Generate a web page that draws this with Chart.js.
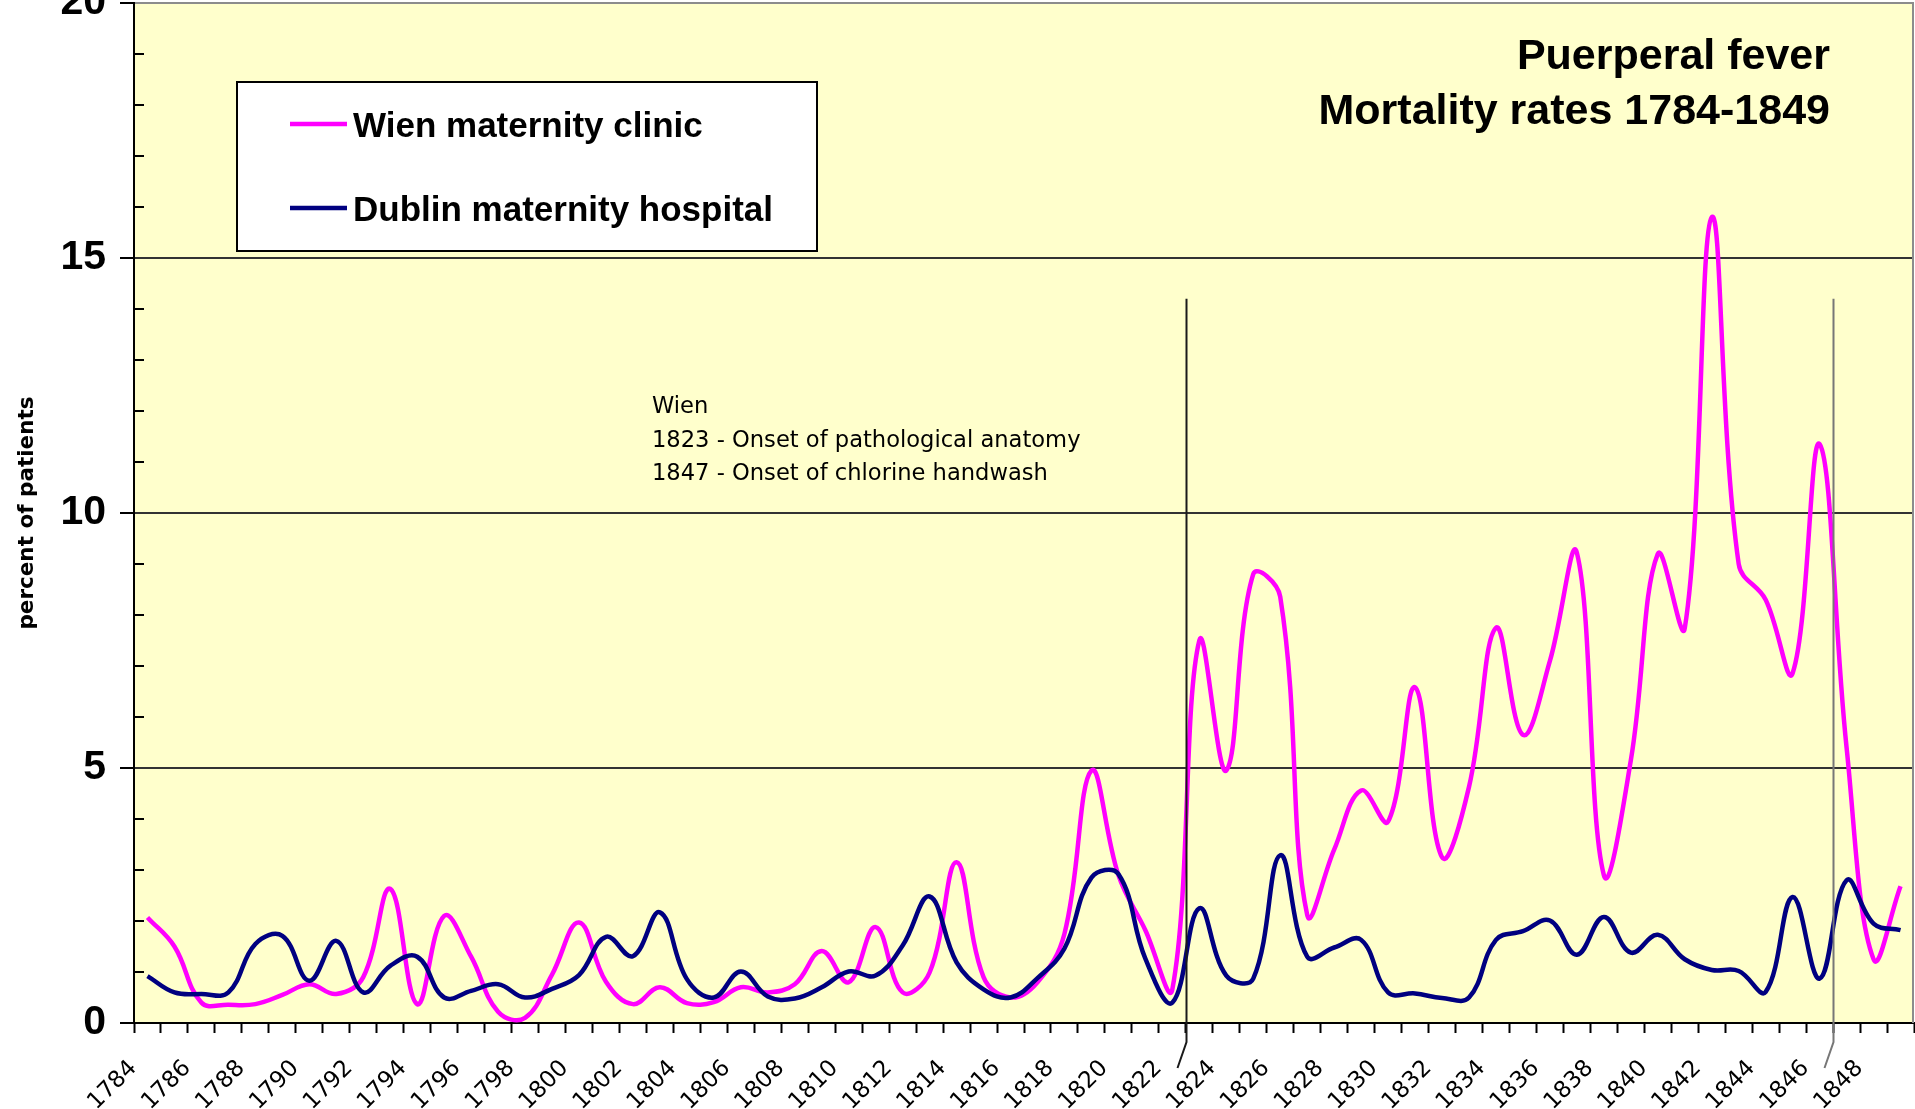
<!DOCTYPE html>
<html>
<head>
<meta charset="utf-8">
<title>Puerperal fever - mortality rates 1784-1849</title>
<script src="https://cdn.jsdelivr.net/npm/chart.js@4.4.1/dist/chart.umd.min.js"></script>
<style>
  html, body { margin: 0; padding: 0; background: #ffffff; }
  #wrap { width: 1915px; height: 1109px; }
</style>
</head>
<body>
<div id="wrap"><canvas id="fever-canvas" width="1915" height="1109"></canvas></div>
<script>
// --- DATA ---
const years = [
    '1784', '1785', '1786', '1787', '1788', '1789', '1790', '1791', '1792', '1793',
    '1794', '1795', '1796', '1797', '1798', '1799', '1800', '1801', '1802', '1803',
    '1804', '1805', '1806', '1807', '1808', '1809', '1810', '1811', '1812', '1813',
    '1814', '1815', '1816', '1817', '1818', '1819', '1820', '1821', '1822', '1823',
    '1824', '1825', '1826', '1827', '1828', '1829', '1830', '1831', '1832', '1833',
    '1834', '1835', '1836', '1837', '1838', '1839', '1840', '1841', '1842', '1843',
    '1844', '1845', '1846', '1847', '1848', '1849'
];

const wienRates = [
    2.07, 1.50, 0.40, 0.36, 0.37, 0.55, 0.76, 0.57, 0.90, 2.63,
    0.37, 2.10, 1.30, 0.22, 0.10, 0.95, 1.97, 0.81, 0.37, 0.70,
    0.39, 0.41, 0.70, 0.60, 0.76, 1.41, 0.80, 1.88, 0.60, 0.99,
    3.15, 0.90, 0.50, 0.80, 1.75, 4.95, 2.90, 1.82, 0.66, 7.50,
    4.95, 8.80, 8.36, 2.12, 3.40, 4.56, 3.95, 6.58, 3.25, 4.63,
    7.75, 5.65, 7.10, 9.22, 2.90, 5.15, 9.20, 7.74, 15.80, 9.00,
    8.30, 6.86, 11.35, 5.40, 1.25, 2.68
];

const dublinRates = [
    0.92, 0.60, 0.57, 0.60, 1.55, 1.71, 0.83, 1.61, 0.60, 1.12,
    1.30, 0.50, 0.63, 0.76, 0.50, 0.67, 0.94, 1.69, 1.31, 2.17,
    0.86, 0.50, 1.01, 0.52, 0.48, 0.70, 1.01, 0.93, 1.52, 2.48,
    1.19, 0.66, 0.50, 0.88, 1.46, 2.85, 2.92, 1.26, 0.40, 2.25,
    0.93, 0.87, 3.29, 1.30, 1.48, 1.63, 0.60, 0.58, 0.49, 0.50,
    1.63, 1.80, 2.01, 1.34, 2.08, 1.38, 1.73, 1.25, 1.04, 1.02,
    0.61, 2.47, 0.87, 2.80, 1.95, 1.82
];

const seriesNames = ['Wien maternity clinic', 'Dublin maternity hospital'];
const seriesColors = ['#ff00ff', '#000080'];
const yTickValues = [0, 5, 10, 15, 20];
const eventYears = ['1823', '1847'];
const eventColors = ['#1a1a1a', '#777777'];
const eventLineTop = 14.2; // value where the marker lines start
const titleLines = ['Puerperal fever', 'Mortality rates 1784-1849'];
const noteLines = ['Wien', '1823 - Onset of pathological anatomy', '1847 - Onset of chlorine handwash'];
const yAxisTitle = 'percent of patients';

const BOLD_FACE = '"Liberation Sans", Arial, sans-serif';
const THIN_FACE = '"DejaVu Sans", Verdana, sans-serif';

// --- PLUGINS ---
const backdrop = {
    id: 'backdrop',
    beforeDraw(chart) {
        const { ctx, chartArea: a } = chart;
        ctx.save();
        ctx.fillStyle = '#ffffff';
        ctx.fillRect(0, 0, chart.width, chart.height);
        ctx.fillStyle = '#ffffcc';
        ctx.fillRect(a.left, a.top, a.right - a.left, a.bottom - a.top);
        ctx.restore();
    }
};

// small inward ticks on the value axis + grey right edge of the plot
const frame = {
    id: 'frame',
    beforeDatasetsDraw(chart) {
        const { ctx, chartArea: a, scales: { y } } = chart;
        ctx.save();
        ctx.strokeStyle = '#000000';
        ctx.lineWidth = 2;
        for (let v = 1; v < 20; v++) {
            if (v % 5 === 0) continue;
            const py = Math.round(y.getPixelForValue(v));
            ctx.beginPath();
            ctx.moveTo(a.left, py);
            ctx.lineTo(a.left + 10, py);
            ctx.stroke();
        }
        ctx.strokeStyle = '#8c8c8c';
        ctx.beginPath();
        ctx.moveTo(a.right - 1, a.top);
        ctx.lineTo(a.right - 1, a.bottom);
        ctx.stroke();
        ctx.restore();
    }
};

// vertical markers for 1823 and 1847, with the little slanted tail under the axis
const eventLines = {
    id: 'eventLines',
    afterDatasetsDraw(chart) {
        const { ctx, chartArea: a, scales: { x, y } } = chart;
        const half = (x.getPixelForValue(1) - x.getPixelForValue(0)) / 2;
        const top = y.getPixelForValue(eventLineTop);
        ctx.save();
        ctx.lineWidth = 2;
        eventYears.forEach((yr, i) => {
            const px = Math.round(x.getPixelForValue(years.indexOf(yr)) - half) + 0.5;
            ctx.strokeStyle = eventColors[i];
            ctx.beginPath();
            ctx.moveTo(px, top);
            ctx.lineTo(px, a.bottom + 19);
            ctx.lineTo(px - 9, a.bottom + 45);
            ctx.stroke();
        });
        ctx.restore();
    }
};

const overlay = {
    id: 'overlay',
    afterDraw(chart) {
        const { ctx } = chart;
        ctx.save();
        ctx.fillStyle = '#000000';
        ctx.textBaseline = 'alphabetic';

        // title, top right
        ctx.font = 'bold 43px ' + BOLD_FACE;
        ctx.textAlign = 'right';
        ctx.fillText(titleLines[0], 1830, 69);
        ctx.fillText(titleLines[1], 1830, 124);

        // note text
        ctx.font = '22.6px ' + THIN_FACE;
        ctx.textAlign = 'left';
        noteLines.forEach((t, i) => ctx.fillText(t, 652, 413 + i * 33.5));

        // legend box
        ctx.fillStyle = '#ffffff';
        ctx.fillRect(237, 82, 580, 169);
        ctx.strokeStyle = '#000000';
        ctx.lineWidth = 2;
        ctx.strokeRect(237, 82, 580, 169);
        ctx.font = 'bold 35px ' + BOLD_FACE;
        chart.data.datasets.forEach((ds, i) => {
            const ly = 124 + i * 84;
            ctx.strokeStyle = ds.borderColor;
            ctx.lineWidth = 4.5;
            ctx.beginPath();
            ctx.moveTo(290, ly);
            ctx.lineTo(347, ly);
            ctx.stroke();
            ctx.fillStyle = '#000000';
            ctx.fillText(ds.label, 353, ly + 13);
        });

        // rotated axis title
        ctx.translate(27, 513);
        ctx.rotate(-Math.PI / 2);
        ctx.font = 'bold 21.5px ' + THIN_FACE;
        ctx.textAlign = 'center';
        ctx.textBaseline = 'middle';
        ctx.fillText(yAxisTitle, 0, 0);
        ctx.restore();
    }
};

// --- CHART ---
const canvas = document.getElementById('fever-canvas');
new Chart(canvas.getContext('2d'), {
    type: 'line',
    data: {
        labels: years,
        datasets: [
            { label: seriesNames[0], data: wienRates, borderColor: seriesColors[0], borderWidth: 4.5,
              pointRadius: 0, tension: 0.4, fill: false, order: 1 },
            { label: seriesNames[1], data: dublinRates, borderColor: seriesColors[1], borderWidth: 4.5,
              pointRadius: 0, tension: 0.4, fill: false, order: 0 }
        ]
    },
    options: {
        responsive: false,
        animation: false,
        devicePixelRatio: 1,
        layout: { padding: { top: 3, right: 1, left: 0, bottom: 0 } },
        plugins: { legend: { display: false }, tooltip: { enabled: false }, title: { display: false } },
        scales: {
            x: {
                type: 'category',
                offset: true,
                grid: { offset: true, drawOnChartArea: false, drawTicks: true, tickLength: 10, tickColor: '#000000', tickWidth: 2 },
                border: { display: true, color: '#000000', width: 2 },
                ticks: {
                    autoSkip: false, minRotation: 45, maxRotation: 45, padding: 22, labelOffset: -14,
                    color: '#000000', font: { family: THIN_FACE, size: 23 },
                    callback: function(value, index) { return index % 2 === 0 ? this.getLabelForValue(value) : ''; }
                },
                afterFit: (scale) => {
                    scale.height = 86;
                    scale.paddingLeft = 0;
                    scale.paddingRight = 0;
                }
            },
            y: {
                min: 0, max: 20,
                afterBuildTicks: (scale) => { scale.ticks = yTickValues.map(v => ({ value: v })); },
                grid: {
                    color: (c) => (c.tick && c.tick.value === 20 ? '#8c8c8c' : '#333333'),
                    lineWidth: 2, tickLength: 14, tickColor: '#000000', tickWidth: 2
                },
                border: { display: true, color: '#000000', width: 2 },
                ticks: { padding: 14, color: '#000000', font: { family: BOLD_FACE, weight: 'bold', size: 41 } },
                afterFit: (scale) => {
                    scale.width = 134;
                    scale.paddingTop = 0;
                    scale.paddingBottom = 0;
                }
            }
        }
    },
    plugins: [backdrop, frame, eventLines, overlay]
});
</script>
</body>
</html>
